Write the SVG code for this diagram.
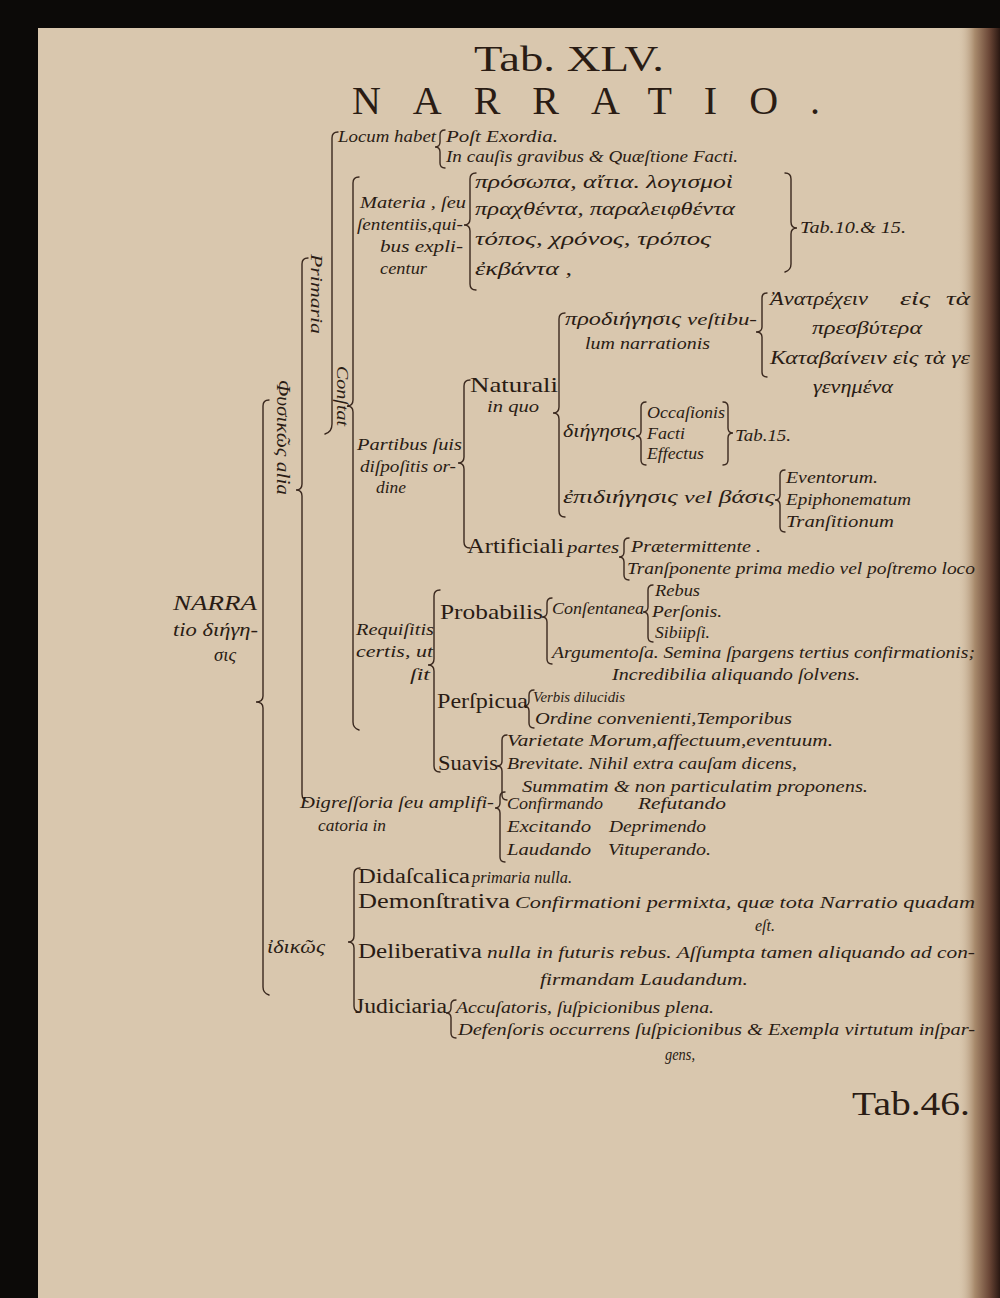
<svg xmlns="http://www.w3.org/2000/svg" width="1000" height="1298" viewBox="0 0 1000 1298">
<defs>
<linearGradient id="edge" x1="0" y1="0" x2="1" y2="0">
<stop offset="0" stop-color="#d6c3a8" stop-opacity="0"/>
<stop offset="0.4" stop-color="#a88a6c"/>
<stop offset="0.75" stop-color="#6a4636"/>
<stop offset="1" stop-color="#2a1812"/>
</linearGradient>
<style>
text{fill:#2a1c14}
.it{font-family:"Liberation Serif","DejaVu Serif",serif;font-style:italic;font-size:17px}
.rm{font-family:"Liberation Serif","DejaVu Serif",serif;font-size:21px}
.gr{font-family:"Liberation Serif","DejaVu Serif",serif;font-style:italic;font-size:18px}
.br{fill:none;stroke:#3a281e;stroke-width:1.4;stroke-linecap:round}
</style>
</defs>
<rect x="0" y="0" width="1000" height="1298" fill="#0c0a08"/>
<rect x="38" y="28" width="962" height="1270" fill="#d9c7ae"/>
<rect x="958" y="28" width="42" height="1270" fill="url(#edge)"/>

<g id="title">
<text class="rm" x="474" y="71" style="font-size:36px" textLength="190" lengthAdjust="spacingAndGlyphs">Tab. XLV.</text>
<text class="rm" x="352" y="114" style="font-size:40px" textLength="468" lengthAdjust="spacing">NARRATIO.</text>
</g>

<g id="connectors">
<path class="br" d="M338 132 Q332 132 332 138 L332 424 Q332 432 325 434"/>
<path class="br" d="M308 258 Q302 258 302 264 L302 484 Q302 490 296 490 Q302 490 302 496 L302 794 Q302 800 308 802"/>
<path class="br" d="M269 400 Q263 400 263 406 L263 696 Q263 702 256 702 Q263 702 263 708 L263 987 Q263 993 269 995"/>
<path class="br" d="M359 177 Q353 177 353 183 L353 400 Q353 406 347 406 Q353 406 353 412 L353 722 Q353 728 359 730"/>
<path class="br" d="M476 173 Q470 173 470 179 L470 219 Q470 225 464 225 Q470 225 470 231 L470 284 Q470 290 476 290"/>
<path class="br" d="M785 173 Q791 173 791 179 L791 222 Q791 228 797 228 Q791 228 791 234 L791 264 Q791 270 785 272"/>
<path class="br" d="M445 130 Q440 130 440 135 L440 142 Q440 147 435 147 Q440 147 440 152 L440 163 Q440 168 445 168"/>
<path class="br" d="M470 380 Q464 380 464 386 L464 457 Q464 463 458 463 Q464 463 464 469 L464 542 Q464 548 470 548"/>
<path class="br" d="M565 313 Q559 313 559 319 L559 407 Q559 413 553 413 Q559 413 559 419 L559 511 Q559 517 565 517"/>
<path class="br" d="M767 293 Q762 293 762 298 L762 327 Q762 332 756 332 Q762 332 762 337 L762 372 Q762 377 767 377"/>
<path class="br" d="M646 402 Q641 402 641 407 L641 431 Q641 436 636 436 Q641 436 641 441 L641 460 Q641 465 646 465"/>
<path class="br" d="M723 402 Q728 402 728 407 L728 428 Q728 433 733 433 Q728 433 728 438 L728 460 Q728 465 723 465"/>
<path class="br" d="M785 470 Q780 470 780 475 L780 495 Q780 500 775 500 Q780 500 780 505 L780 527 Q780 532 785 532"/>
<path class="br" d="M629 538 Q624 538 624 543 L624 552 Q624 557 619 557 Q624 557 624 562 L624 575 Q624 580 629 580"/>
<path class="br" d="M440 590 Q434 590 434 596 L434 659 Q434 665 428 665 Q434 665 434 671 L434 766 Q434 772 440 772"/>
<path class="br" d="M552 598 Q547 598 547 603 L547 612 Q547 617 542 617 Q547 617 547 622 L547 659 Q547 664 552 664"/>
<path class="br" d="M653 585 Q648 585 648 590 L648 607 Q648 612 643 612 Q648 612 648 617 L648 637 Q648 642 653 642"/>
<path class="br" d="M534 690 Q529 690 529 695 L529 701 Q529 706 524 706 Q529 706 529 711 L529 723 Q529 728 534 728"/>
<path class="br" d="M507 735 Q502 735 502 740 L502 761 Q502 766 497 766 Q502 766 502 771 L502 795 Q502 800 507 800"/>
<path class="br" d="M505 792 Q500 792 500 797 L500 803 Q500 808 495 808 Q500 808 500 813 L500 857 Q500 862 505 862"/>
<path class="br" d="M360 868 Q354 868 354 874 L354 936 Q354 942 348 942 Q354 942 354 948 L354 1006 Q354 1012 360 1012"/>
<path class="br" d="M456 1000 Q451 1000 451 1005 L451 1008 Q451 1013 446 1013 Q451 1013 451 1018 L451 1033 Q451 1038 456 1038"/>
</g>

<g id="narratio">
<text class="it" x="173" y="610" style="font-size:20px" textLength="84" lengthAdjust="spacingAndGlyphs">NARRA</text>
<text class="gr" x="173" y="636" textLength="85" lengthAdjust="spacingAndGlyphs">tio διήγη-</text>
<text class="gr" x="214" y="661" textLength="22" lengthAdjust="spacingAndGlyphs">σις</text>
</g>

<g id="physikos">
<text class="gr" transform="translate(277,380) rotate(90)" x="0" y="0" textLength="115" lengthAdjust="spacingAndGlyphs">Φυσικῶς alia</text>
</g>

<g id="primaria">
<text class="it" transform="translate(311,254) rotate(90)" x="0" y="0" textLength="80" lengthAdjust="spacingAndGlyphs">Primaria</text>
</g>

<g id="locum">
<text class="it" x="338" y="142" textLength="98" lengthAdjust="spacingAndGlyphs">Locum habet</text>
<text class="it" x="446" y="142" textLength="112" lengthAdjust="spacingAndGlyphs">Poſt Exordia.</text>
<text class="it" x="446" y="162" textLength="292" lengthAdjust="spacingAndGlyphs">In cauſis gravibus &amp; Quæſtione Facti.</text>
</g>

<g id="constat">
<text class="it" transform="translate(337,366) rotate(90)" x="0" y="0" textLength="60" lengthAdjust="spacingAndGlyphs">Conſtat</text>
</g>

<g id="materia">
<text class="it" x="360" y="208" textLength="106" lengthAdjust="spacingAndGlyphs">Materia , ſeu</text>
<text class="it" x="357" y="230" textLength="106" lengthAdjust="spacingAndGlyphs">ſententiis,qui-</text>
<text class="it" x="380" y="252" textLength="83" lengthAdjust="spacingAndGlyphs">bus expli-</text>
<text class="it" x="380" y="274" textLength="47" lengthAdjust="spacingAndGlyphs">centur</text>
</g>

<g id="materia-greek">
<text class="gr" x="475" y="188" textLength="258" lengthAdjust="spacingAndGlyphs">πρόσωπα, αἴτια. λογισμοὶ</text>
<text class="gr" x="475" y="215" textLength="260" lengthAdjust="spacingAndGlyphs">πραχθέντα, παραλειφθέντα</text>
<text class="gr" x="475" y="245" textLength="236" lengthAdjust="spacingAndGlyphs">τόπος, χρόνος, τρόπος</text>
<text class="gr" x="475" y="275" textLength="97" lengthAdjust="spacingAndGlyphs">ἐκβάντα ,</text>
</g>

<g id="tab10">
<text class="it" x="800" y="233" textLength="106" lengthAdjust="spacingAndGlyphs">Tab.10.&amp; 15.</text>
</g>

<g id="partibus">
<text class="it" x="357" y="450" textLength="105" lengthAdjust="spacingAndGlyphs">Partibus ſuis</text>
<text class="it" x="360" y="472" textLength="96" lengthAdjust="spacingAndGlyphs">diſpoſitis or-</text>
<text class="it" x="376" y="493" textLength="30" lengthAdjust="spacingAndGlyphs">dine</text>
</g>

<g id="naturali">
<text class="rm" x="470" y="392" style="font-size:22px" textLength="88" lengthAdjust="spacingAndGlyphs">Naturali</text>
<text class="it" x="487" y="412" textLength="52" lengthAdjust="spacingAndGlyphs">in quo</text>
</g>

<g id="prodiegesis">
<text class="gr" x="565" y="325" textLength="192" lengthAdjust="spacingAndGlyphs">προδιήγησις <tspan class="it">veſtibu-</tspan></text>
<text class="it" x="585" y="349" textLength="125" lengthAdjust="spacingAndGlyphs">lum narrationis</text>
</g>

<g id="anatrechein">
<text class="gr" x="770" y="305" textLength="98" lengthAdjust="spacingAndGlyphs">Ἀνατρέχειν</text>
<text class="gr" x="900" y="305" textLength="30" lengthAdjust="spacingAndGlyphs">εἰς</text>
<text class="gr" x="946" y="305" textLength="24" lengthAdjust="spacingAndGlyphs">τὰ</text>
<text class="gr" x="812" y="334" textLength="110" lengthAdjust="spacingAndGlyphs">πρεσβύτερα</text>
<text class="gr" x="770" y="364" textLength="200" lengthAdjust="spacingAndGlyphs">Καταβαίνειν εἰς τὰ γε</text>
<text class="gr" x="813" y="393" textLength="80" lengthAdjust="spacingAndGlyphs">γενημένα</text>
</g>

<g id="diegesis">
<text class="gr" x="563" y="437" textLength="73" lengthAdjust="spacingAndGlyphs">διήγησις</text>
<text class="it" x="647" y="418" textLength="78" lengthAdjust="spacingAndGlyphs">Occaſionis</text>
<text class="it" x="647" y="439" textLength="38" lengthAdjust="spacingAndGlyphs">Facti</text>
<text class="it" x="647" y="459" textLength="57" lengthAdjust="spacingAndGlyphs">Effectus</text>
<text class="it" x="735" y="441" textLength="56" lengthAdjust="spacingAndGlyphs">Tab.15.</text>
</g>

<g id="epidiegesis">
<text class="gr" x="563" y="503" textLength="212" lengthAdjust="spacingAndGlyphs">ἐπιδιήγησις <tspan class="it">vel</tspan> βάσις</text>
<text class="it" x="786" y="483" textLength="92" lengthAdjust="spacingAndGlyphs">Eventorum.</text>
<text class="it" x="786" y="505" textLength="125" lengthAdjust="spacingAndGlyphs">Epiphonematum</text>
<text class="it" x="786" y="527" textLength="108" lengthAdjust="spacingAndGlyphs">Tranſitionum</text>
</g>

<g id="artificiali">
<text class="rm" x="467" y="553" style="font-size:22px" textLength="97" lengthAdjust="spacingAndGlyphs">Artificiali</text>
<text class="it" x="567" y="553" textLength="52" lengthAdjust="spacingAndGlyphs">partes</text>
<text class="it" x="631" y="552" textLength="130" lengthAdjust="spacingAndGlyphs">Prætermittente .</text>
<text class="it" x="627" y="574" textLength="348" lengthAdjust="spacingAndGlyphs">Tranſponente prima medio vel poſtremo loco</text>
</g>

<g id="requisitis">
<text class="it" x="356" y="635" textLength="78" lengthAdjust="spacingAndGlyphs">Requiſitis</text>
<text class="it" x="356" y="657" textLength="77" lengthAdjust="spacingAndGlyphs">certis, ut</text>
<text class="it" x="410" y="680" textLength="20" lengthAdjust="spacingAndGlyphs">ſit</text>
</g>

<g id="probabilis">
<text class="rm" x="440" y="619" textLength="103" lengthAdjust="spacingAndGlyphs">Probabilis</text>
<text class="it" x="552" y="614" textLength="92" lengthAdjust="spacingAndGlyphs">Conſentanea</text>
<text class="it" x="655" y="596" textLength="45" lengthAdjust="spacingAndGlyphs">Rebus</text>
<text class="it" x="652" y="617" textLength="70" lengthAdjust="spacingAndGlyphs">Perſonis.</text>
<text class="it" x="655" y="638" textLength="55" lengthAdjust="spacingAndGlyphs">Sibiipſi.</text>
<text class="it" x="552" y="658" textLength="423" lengthAdjust="spacingAndGlyphs">Argumentoſa. Semina ſpargens tertius confirmationis;</text>
<text class="it" x="612" y="680" textLength="248" lengthAdjust="spacingAndGlyphs">Incredibilia aliquando ſolvens.</text>
</g>

<g id="perspicua">
<text class="rm" x="437" y="708" textLength="91" lengthAdjust="spacingAndGlyphs">Perſpicua</text>
<text class="it" x="533" y="702" style="font-size:15px" textLength="92" lengthAdjust="spacingAndGlyphs">Verbis dilucidis</text>
<text class="it" x="535" y="724" textLength="257" lengthAdjust="spacingAndGlyphs">Ordine convenienti,Temporibus</text>
</g>

<g id="suavis">
<text class="rm" x="438" y="770" textLength="60" lengthAdjust="spacingAndGlyphs">Suavis</text>
<text class="it" x="507" y="746" textLength="326" lengthAdjust="spacingAndGlyphs">Varietate Morum,affectuum,eventuum.</text>
<text class="it" x="507" y="769" textLength="290" lengthAdjust="spacingAndGlyphs">Brevitate. Nihil extra cauſam dicens,</text>
<text class="it" x="522" y="792" textLength="346" lengthAdjust="spacingAndGlyphs">Summatim &amp; non particulatim proponens.</text>
</g>

<g id="digressoria">
<text class="it" x="300" y="808" textLength="194" lengthAdjust="spacingAndGlyphs">Digreſſoria ſeu amplifi-</text>
<text class="it" x="318" y="831" textLength="68" lengthAdjust="spacingAndGlyphs">catoria in</text>
<text class="it" x="507" y="809" textLength="96" lengthAdjust="spacingAndGlyphs">Confirmando</text>
<text class="it" x="638" y="809" textLength="88" lengthAdjust="spacingAndGlyphs">Refutando</text>
<text class="it" x="507" y="832" textLength="84" lengthAdjust="spacingAndGlyphs">Excitando</text>
<text class="it" x="609" y="832" textLength="97" lengthAdjust="spacingAndGlyphs">Deprimendo</text>
<text class="it" x="507" y="855" textLength="84" lengthAdjust="spacingAndGlyphs">Laudando</text>
<text class="it" x="608" y="855" textLength="103" lengthAdjust="spacingAndGlyphs">Vituperando.</text>
</g>

<g id="idikos">
<text class="gr" x="267" y="953" textLength="58" lengthAdjust="spacingAndGlyphs">ἰδικῶς</text>
</g>

<g id="didascalica">
<text class="rm" x="358" y="883" style="font-size:20px" textLength="112" lengthAdjust="spacingAndGlyphs">Didaſcalica</text>
<text class="it" x="472" y="883" textLength="100" lengthAdjust="spacingAndGlyphs">primaria nulla.</text>
</g>

<g id="demonstrativa">
<text class="rm" x="358" y="908" style="font-size:20px" textLength="152" lengthAdjust="spacingAndGlyphs">Demonſtrativa</text>
<text class="it" x="515" y="908" textLength="460" lengthAdjust="spacingAndGlyphs">Confirmationi permixta, quæ tota Narratio quadam</text>
<text class="it" x="755" y="931" textLength="20" lengthAdjust="spacingAndGlyphs">eſt.</text>
</g>

<g id="deliberativa">
<text class="rm" x="358" y="958" style="font-size:20px" textLength="124" lengthAdjust="spacingAndGlyphs">Deliberativa</text>
<text class="it" x="487" y="958" textLength="488" lengthAdjust="spacingAndGlyphs">nulla in futuris rebus. Aſſumpta tamen aliquando ad con-</text>
<text class="it" x="540" y="985" textLength="208" lengthAdjust="spacingAndGlyphs">firmandam Laudandum.</text>
</g>

<g id="judiciaria">
<text class="rm" x="355" y="1013" style="font-size:20px" textLength="92" lengthAdjust="spacingAndGlyphs">Judiciaria</text>
<text class="it" x="456" y="1013" textLength="258" lengthAdjust="spacingAndGlyphs">Accuſatoris, ſuſpicionibus plena.</text>
<text class="it" x="458" y="1035" textLength="517" lengthAdjust="spacingAndGlyphs">Defenſoris occurrens ſuſpicionibus &amp; Exempla virtutum inſpar-</text>
<text class="it" x="665" y="1060" textLength="30" lengthAdjust="spacingAndGlyphs">gens,</text>
</g>

<g id="tab46">
<text class="rm" x="852" y="1115" style="font-size:34px" textLength="118" lengthAdjust="spacingAndGlyphs">Tab.46.</text>
</g>
</svg>
